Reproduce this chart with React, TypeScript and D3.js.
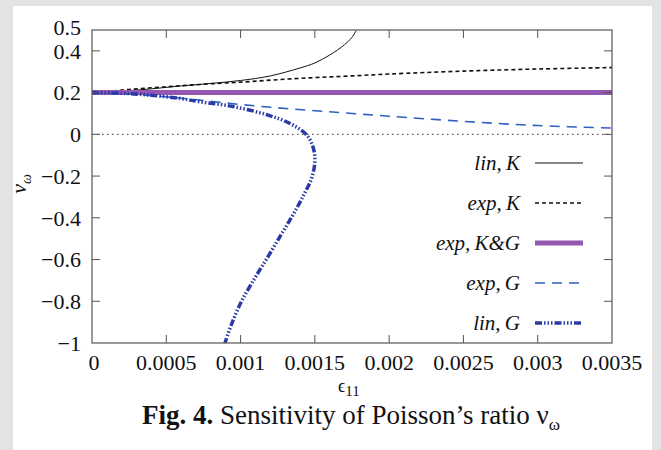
import React from "react";
import * as d3 from "d3";

const xTicks = [0, 0.0005, 0.001, 0.0015, 0.002, 0.0025, 0.003, 0.0035];
const xTickLabels = ["0", "0.0005", "0.001", "0.0015", "0.002", "0.0025", "0.003", "0.0035"];
const yTicks = [-1, -0.8, -0.6, -0.4, -0.2, 0, 0.2, 0.4, 0.5];
const yTickLabels = ["−1", "−0.8", "−0.6", "−0.4", "−0.2", "0", "0.2", "0.4", "0.5"];

const linK: [number, number][] = [
  [0, 0.2], [0.0002, 0.207], [0.0004, 0.218], [0.0006, 0.232], [0.0008, 0.244],
  [0.001, 0.258], [0.0012, 0.28], [0.0014, 0.318], [0.0015, 0.342], [0.0016, 0.38],
  [0.0017, 0.43], [0.00175, 0.465], [0.00178, 0.5],
];
const expK: [number, number][] = [
  [0, 0.2], [0.00025, 0.215], [0.0005, 0.228], [0.00075, 0.24], [0.001, 0.25],
  [0.00125, 0.262], [0.0015, 0.272], [0.00175, 0.28], [0.002, 0.289],
  [0.0025, 0.303], [0.003, 0.313], [0.0035, 0.32],
];
const expKG: [number, number][] = [[0, 0.2], [0.0035, 0.2]];
const expG: [number, number][] = [
  [0, 0.2], [0.00025, 0.193], [0.0005, 0.18], [0.00075, 0.162], [0.001, 0.143],
  [0.00125, 0.127], [0.0015, 0.113], [0.00175, 0.1], [0.002, 0.087],
  [0.0025, 0.062], [0.003, 0.042], [0.0035, 0.03],
];
const linG: [number, number][] = [
  [0, 0.2], [0.0002, 0.197], [0.0004, 0.187], [0.0006, 0.171], [0.000727, 0.156],
  [0.00095, 0.133], [0.00118, 0.093], [0.00133, 0.053], [0.001445, -0.003],
  [0.00149, -0.067], [0.0015, -0.131], [0.001478, -0.211], [0.001425, -0.291],
  [0.001352, -0.387], [0.001272, -0.482], [0.001178, -0.594], [0.001095, -0.69],
  [0.001005, -0.802], [0.000937, -0.914], [0.000895, -1],
];

const legendLabels = ["lin,\u2009K", "exp,\u2009K", "exp,\u2009K&G", "exp,\u2009G", "lin,\u2009G"];

const W = 661, H = 450;
const L = 92, R = 612, T = 30, B = 343;
const serif = "'Liberation Serif', 'Times New Roman', serif";

export default function App() {
  const x = d3.scaleLinear().domain([0, 0.0035]).range([L, R]);
  const y = d3.scaleLinear().domain([-1, 0.5]).range([B, T]);
  const line = d3.line<[number, number]>().x(d => x(d[0])).y(d => y(d[1])).curve(d3.curveCatmullRom.alpha(0.5));

  const styles = [
    { stroke: "#111", width: 1, dash: "none" },
    { stroke: "#111", width: 1.6, dash: "4,3" },
    { stroke: "#9457b2", width: 5, dash: "none" },
    { stroke: "#2f5ec4", width: 1.6, dash: "10,7" },
    { stroke: "#2a3aa6", width: 3.5, dash: "7,2,1.5,2,1.5,2,1.5,2" },
  ];
  const series = [linK, expK, expKG, expG, linG];
  const legendY = [163, 203, 243, 283, 323];

  return (
    <svg width={W} height={H} style={{ position: "absolute", left: 0, top: 0 }}>
      <rect x={0} y={0} width={W} height={H} fill="#e3e3e3" />
      <rect x={13} y={6} width={639} height={H - 6} fill="#ffffff" />
      <defs>
        <clipPath id="plot"><rect x={L} y={T - 2} width={R - L} height={B - T + 2} /></clipPath>
      </defs>
      <line x1={L} x2={R} y1={y(0)} y2={y(0)} stroke="#333" strokeWidth={1} strokeDasharray="1.5,3.5" />
      <g clipPath="url(#plot)">
        {series.map((s, i) => (
          <path key={i} d={line(s) || ""} fill="none" stroke={styles[i].stroke}
            strokeWidth={styles[i].width} strokeDasharray={styles[i].dash} />
        ))}
      </g>
      <rect x={L} y={T} width={R - L} height={B - T} fill="none" stroke="#555" strokeWidth={1.2} />
      {xTicks.map((t, i) => (
        <g key={"x" + i}>
          {i > 0 && i < xTicks.length - 1 && (
            <>
              <line x1={x(t)} x2={x(t)} y1={B} y2={B - 8} stroke="#555" />
              <line x1={x(t)} x2={x(t)} y1={T} y2={T + 8} stroke="#555" />
            </>
          )}
          <text x={x(t) + (i === 0 ? 2 : 0)} y={370} textAnchor="middle" fontFamily={serif} fontSize={22} fill="#111">{xTickLabels[i]}</text>
        </g>
      ))}
      {yTicks.map((t, i) => (
        <g key={"y" + i}>
          {t > -1 && t < 0.5 && (
            <>
              <line x1={L} x2={L + 8} y1={y(t)} y2={y(t)} stroke="#555" />
              <line x1={R} x2={R - 8} y1={y(t)} y2={y(t)} stroke="#555" />
            </>
          )}
          <text x={81} y={y(t) + (t === 0.5 ? -3 : 0)} dy="0.35em" textAnchor="end" fontFamily={serif} fontSize={22} fill="#111">{yTickLabels[i]}</text>
        </g>
      ))}
      {legendLabels.map((lab, i) => (
        <g key={"l" + i}>
          <text x={520} y={legendY[i] + 7} textAnchor="end" fontFamily={serif} fontStyle="italic" fontSize={21} fill="#111">{lab}</text>
          <line x1={535} x2={583} y1={legendY[i]} y2={legendY[i]} stroke={styles[i].stroke}
            strokeWidth={styles[i].width} strokeDasharray={styles[i].dash} />
        </g>
      ))}
      <text transform="translate(26,184) rotate(-90)" textAnchor="middle" fontFamily={serif} fontStyle="italic" fontSize={22} fill="#111">
        ν<tspan fontSize={14} dy={5}>ω</tspan>
      </text>
      <text x={338} y={392} fontFamily={serif} fontSize={18} fill="#111">
        ϵ<tspan fontSize={15} dy={4}>11</tspan>
      </text>
      <text x={142} y={424} fontFamily={serif} fontSize={27} fill="#111">
        <tspan fontWeight="bold">Fig. 4.</tspan> Sensitivity of Poisson’s ratio ν<tspan fontSize={17} dy={6}>ω</tspan>
      </text>
    </svg>
  );
}
